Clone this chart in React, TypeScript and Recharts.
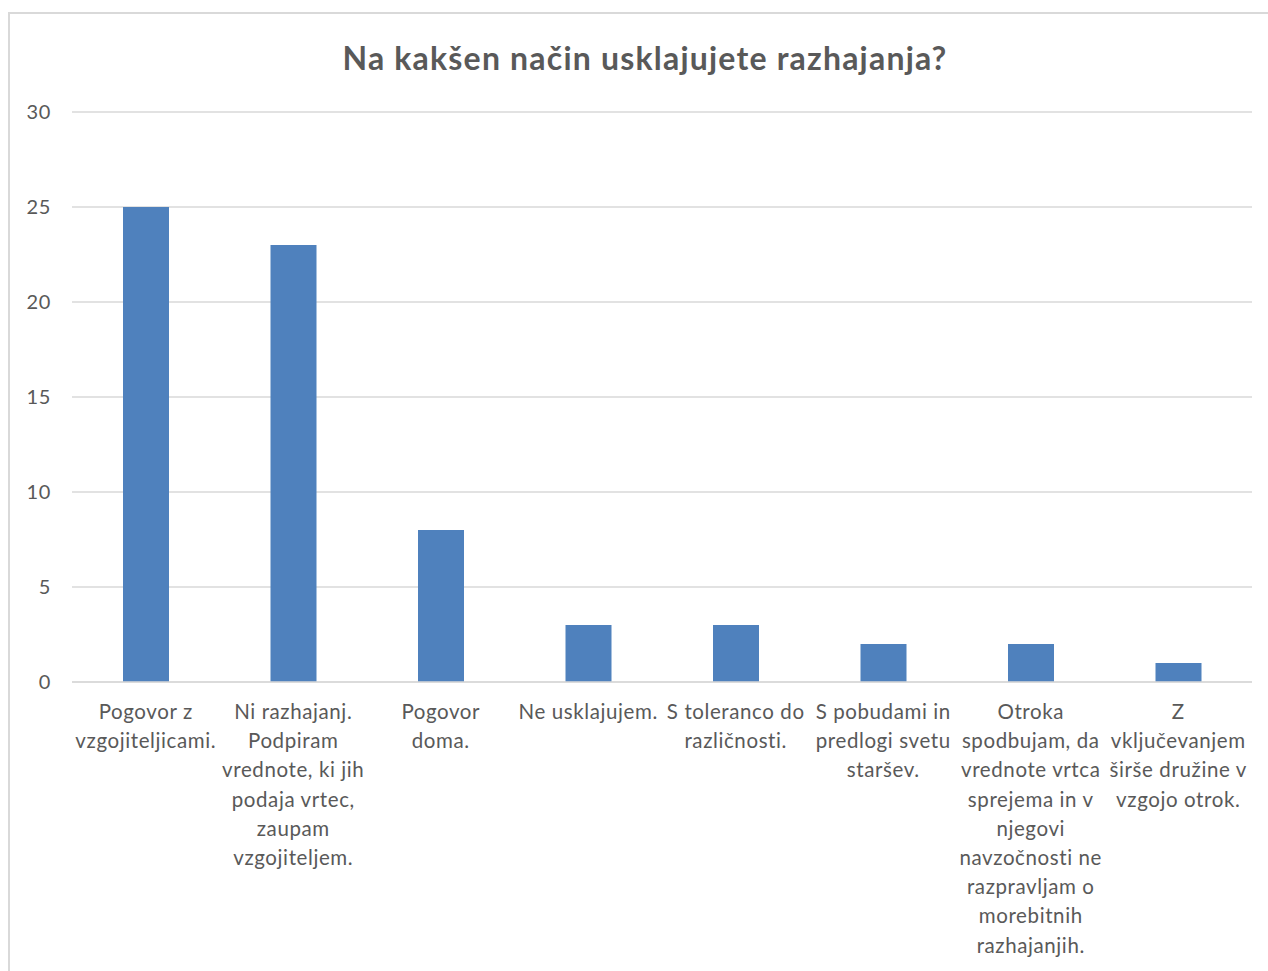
import { Bar, BarChart, CartesianGrid, XAxis, YAxis } from "recharts";

const categories = [
  "Pogovor z\nvzgojiteljicami.",
  "Ni razhajanj.\nPodpiram\nvrednote, ki jih\npodaja vrtec,\nzaupam\nvzgojiteljem.",
  "Pogovor\ndoma.",
  "Ne usklajujem.",
  "S toleranco do\nrazličnosti.",
  "S pobudami in\npredlogi svetu\nstaršev.",
  "Otroka\nspodbujam, da\nvrednote vrtca\nsprejema in v\nnjegovi\nnavzočnosti ne\nrazpravljam o\nmorebitnih\nrazhajanjih.",
  "Z\nvključevanjem\nširše družine v\nvzgojo otrok.",
];
const counts = [25, 23, 8, 3, 3, 2, 2, 1];
const yTicks = [0, 5, 10, 15, 20, 25, 30];

const data = categories.map((name, i) => ({ name, count: counts[i] }));

const FONT = "Lato, 'Open Sans', sans-serif";
const TEXT = "#595959";

function CategoryTick({ x, y, payload }: any) {
  const lines = String(payload.value).split("\n");
  return (
    <text
      x={x}
      y={y + 37}
      textAnchor="middle"
      fill={TEXT}
      fontSize={20.5}
      fontFamily={FONT}
      letterSpacing={0.6}
    >
      {lines.map((line, i) => (
        <tspan key={i} x={x} dy={i === 0 ? 0 : 29.2}>
          {line}
        </tspan>
      ))}
    </text>
  );
}

export default function App() {
  return (
    <div
      style={{
        position: "absolute",
        left: 0,
        top: 0,
        width: 1268,
        height: 971,
        overflow: "hidden",
        background: "#fff",
      }}
    >
      <div
        style={{
          position: "absolute",
          left: 8,
          top: 12,
          width: 1300,
          height: 1000,
          border: "2px solid #d9d9d9",
          boxSizing: "border-box",
        }}
      />
      <div
        style={{
          position: "absolute",
          left: 0,
          top: 37,
          width: 1290,
          textAlign: "center",
          fontFamily: FONT,
          fontSize: 32,
          fontWeight: 700,
          letterSpacing: 1.2,
          color: TEXT,
          lineHeight: "42px",
        }}
      >
        Na kakšen način usklajujete razhajanja?
      </div>
      <div style={{ position: "absolute", left: 0, top: 0 }}>
        <BarChart
          width={1268}
          height={971}
          data={data}
          margin={{ top: 112, right: 16, left: 0, bottom: 0 }}
          barCategoryGap="0%"
        >
          <CartesianGrid vertical={false} stroke="#d9d9d9" strokeWidth={1.5} />
          <XAxis
            dataKey="name"
            interval={0}
            height={289}
            tickLine={false}
            tickSize={0}
            tickMargin={0}
            axisLine={{ stroke: "#d9d9d9", strokeWidth: 1.5 }}
            tick={<CategoryTick />}
          />
          <YAxis
            width={72}
            domain={[0, 30]}
            ticks={yTicks}
            axisLine={false}
            tickLine={false}
            tickSize={0}
            tickMargin={21}
            tick={{ fill: TEXT, fontSize: 20, fontFamily: FONT, letterSpacing: 0.6 }}
          />
          <Bar dataKey="count" fill="#4f81bd" barSize={46} isAnimationActive={false} />
        </BarChart>
      </div>
    </div>
  );
}
